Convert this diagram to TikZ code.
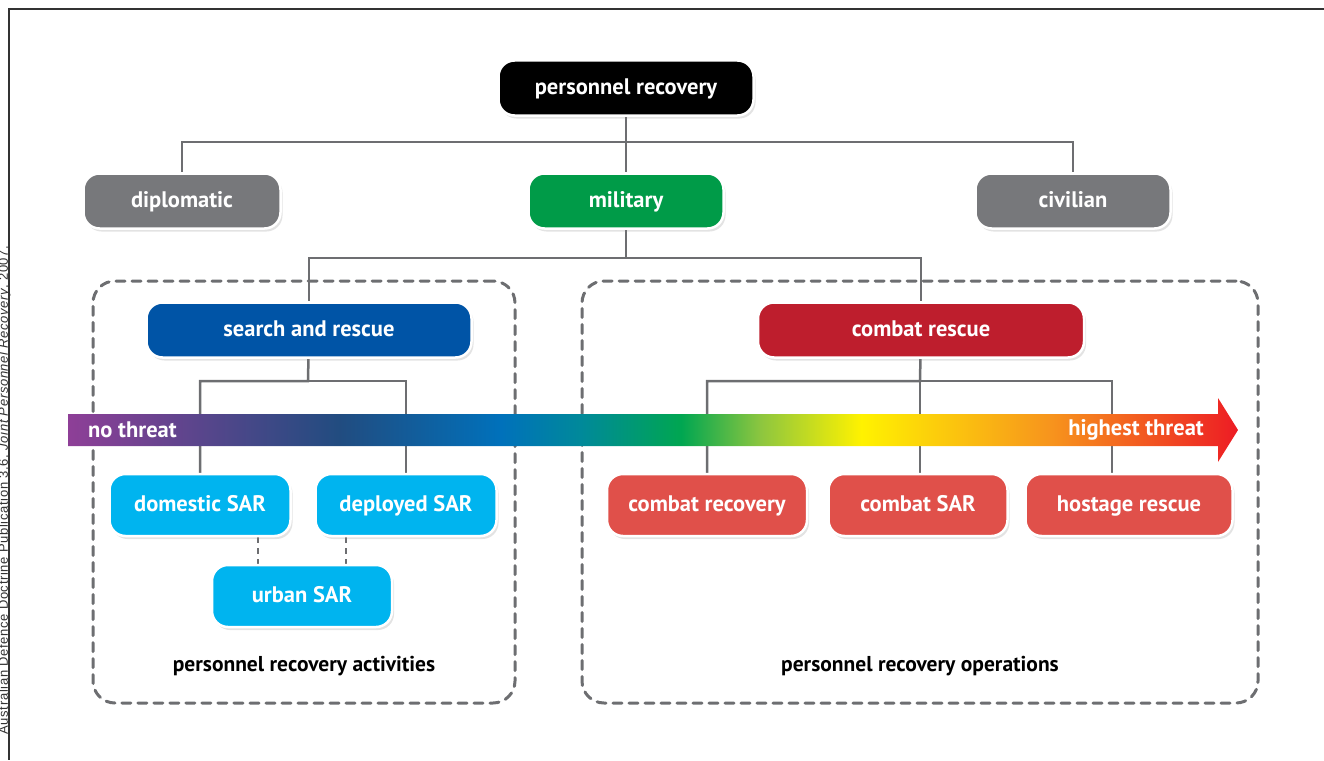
\documentclass[tikz,border=0pt]{standalone}
\usepackage{fontspec}
\setmainfont{PT Sans}
\newfontfamily\creditfont[LetterSpace=5]{Liberation Sans}
\usetikzlibrary{shadows}

\definecolor{linegray}{HTML}{6D6E71}
\definecolor{boxgray}{HTML}{77787B}
\definecolor{milgreen}{HTML}{009B48}
\definecolor{sarblue}{HTML}{0054A6}
\definecolor{cbred}{HTML}{BE1E2D}
\definecolor{sarcyan}{HTML}{00B4EF}
\definecolor{cbsalmon}{HTML}{E0504A}
\definecolor{thpurple}{HTML}{8E3F97}
\definecolor{thnavy}{HTML}{214C80}
\definecolor{thblue}{HTML}{0071BB}
\definecolor{thteal}{HTML}{00899A}
\definecolor{thgreen}{HTML}{00A651}
\definecolor{thlime}{HTML}{8DC63F}
\definecolor{thyellow}{HTML}{FFF200}
\definecolor{thorange}{HTML}{F7941D}
\definecolor{thred}{HTML}{ED1C24}

% threat scale, purple to red
\pgfdeclarehorizontalshading{threat}{100bp}{color(0bp)=(thpurple); color(25bp)=(thpurple);
  color(36.6bp)=(thnavy); color(43.5bp)=(thblue); color(46.9bp)=(thteal);
  color(51.2bp)=(thgreen); color(54.6bp)=(thlime); color(58.9bp)=(thyellow);
  color(67bp)=(thorange); color(75bp)=(thred); color(100bp)=(thred)}

\pgfdeclarelayer{background}
\pgfsetlayers{background,main}

\begin{document}
\begin{tikzpicture}[x=1pt, y=-1pt,
    box/.style={rounded corners=16pt, draw=white, line width=2.5pt, text=white,
        font=\bfseries\fontsize{22.5}{24}\selectfont, minimum height=55pt,
        text height=16pt, text depth=4pt,
        drop shadow={opacity=0.22, shadow xshift=2pt, shadow yshift=-3pt}},
    subbox/.style={box, minimum height=62pt},
    link/.style={draw=linegray, line width=2.5pt},
    dlink/.style={link, dash pattern=on 6pt off 5pt},
    zone/.style={draw=linegray, line width=3pt, dash pattern=on 9pt off 7pt,
        line cap=round, rounded corners=22pt, minimum height=422pt},
    caption/.style={font=\bfseries\fontsize{21.5}{23}\selectfont},
    scalelabel/.style={text=white, inner sep=0pt, font=\bfseries\fontsize{22.5}{24}\selectfont}]

    \useasboundingbox (0,0) rectangle (1324,760);

    % frame and source
    \draw[black!80, line width=1.5pt] (1324,9) -- (9,9) -- (9,760);
    \node[rotate=90, anchor=base, inner sep=0pt, text=black!80,
        font=\creditfont\fontsize{13}{13}\selectfont] (src) at (8,490)
        {Australian Defence Doctrine Publication 3.6, \textit{Joint Personnel Recovery}, 2007.};

    % top levels
    \node[box, fill=black, minimum width=255pt] (pr) at (626,88) {personnel recovery};
    \node[box, fill=boxgray, minimum width=197pt] (dip) at (182,201) {diplomatic};
    \node[box, fill=milgreen, minimum width=195pt] (mil) at (626,201) {military};
    \node[box, fill=boxgray, minimum width=195pt] (civ) at (1073,201) {civilian};

    % activities and operations
    \node[box, fill=sarblue, minimum width=325pt] (sar) at (309,330) {search and rescue};
    \node[box, fill=cbred, minimum width=326pt] (cr) at (921,330) {combat rescue};
    \node[subbox, fill=sarcyan, minimum width=181pt] (dom) at (200,505) {domestic SAR};
    \node[subbox, fill=sarcyan, minimum width=181pt] (dep) at (406,505) {deployed SAR};
    \node[subbox, fill=sarcyan, minimum width=180pt] (urb) at (302,596) {urban SAR};
    \node[subbox, fill=cbsalmon, minimum width=200pt] (crec) at (707,505) {combat recovery};
    \node[subbox, fill=cbsalmon, minimum width=179pt] (csar) at (918,505) {combat SAR};
    \node[subbox, fill=cbsalmon, minimum width=207pt] (host) at (1129,505) {hostage rescue};

    \coordinate (j1) at (626,142);
    \coordinate (j2) at (626,258);
    \coordinate (j3) at (308,381);
    \coordinate (j4) at (920,381);

    \begin{pgfonlayer}{background}
    % dashed groups
    \node[zone, minimum width=422pt] (act) at (304,492) {};
    \node[zone, minimum width=676pt] (ops) at (920,492) {};
    % tree lines
    \draw[link] (pr) -- (mil);
    \draw[link] (j1) -| (dip.north);
    \draw[link] (j1) -| (civ.north);
    \draw[link] (mil) -- (j2) -| (sar.north);
    \draw[link] (j2) -| (cr.north);
    \draw[link] (sar) -- (j3) -| (dom.north);
    \draw[link] (j3) -| (dep.north);
    \draw[link] (cr) -- (j4) -| (crec.north);
    \draw[link] (j4) -| ([xshift=2pt]csar.north);
    \draw[link] (j4) -| ([xshift=-17pt]host.north);
    \draw[dlink] ([xshift=58pt]dom.south) -- ([xshift=-44pt]urb.north);
    \draw[dlink] ([xshift=-60pt]dep.south) -- ([xshift=44pt]urb.north);
    \end{pgfonlayer}

    % threat arrow
    \shade[shading=threat] (68,414) -- (1218,414) -- (1218,398) -- (1238,430)
        -- (1218,462) -- (1218,446) -- (68,446) -- cycle;
    \node[scalelabel, anchor=west] (low) at (88,430) {no threat};
    \node[scalelabel, anchor=east] (high) at (1204,430) {highest threat};

    \node[caption] (actlbl) at (304,666) {personnel recovery activities};
    \node[caption] (opslbl) at (920,666) {personnel recovery operations};
\end{tikzpicture}
\end{document}
